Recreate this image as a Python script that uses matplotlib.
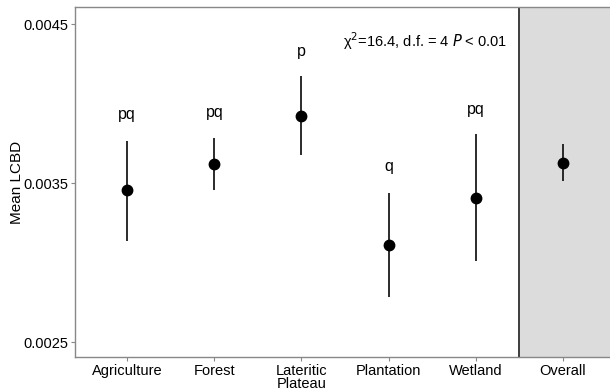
import numpy as np
import matplotlib
matplotlib.use('Agg')
import matplotlib.pyplot as plt

plt.rcParams['font.family'] = ['Liberation Sans', 'DejaVu Sans']

categories = ['Agriculture', 'Forest', 'Lateritic\nPlateau', 'Plantation', 'Wetland', 'Overall']
means = [0.003454, 0.003620, 0.003922, 0.003110, 0.003404, 0.003628]
upper = [0.003766, 0.003785, 0.004174, 0.003439, 0.003807, 0.003746]
lower = [0.003134, 0.003456, 0.003676, 0.002784, 0.003011, 0.003511]
letters = ['pq', 'pq', 'p', 'q', 'pq']
letter_y = [0.003928, 0.003941, 0.004325, 0.003601, 0.003960]

fig = plt.figure(figsize=(6.1, 3.91), dpi=100)
ax = fig.add_axes([75/610, 34/391, 540/610, 350/391])

x = np.arange(1, len(categories) + 1)

# grey block behind the overall estimate
ax.axvspan(5.5, 7, color='#dcdcdc', zorder=0)
ax.axvline(5.5, color='#3d3d3d', lw=1.4, zorder=1)

ax.vlines(x, lower, upper, color='#1a1a1a', lw=1.3, zorder=2)
ax.plot(x, means, 'o', color='black', ms=7.5, zorder=3)

for xi, lab, ly in zip(x, letters, letter_y):
    ax.text(xi, ly, lab, ha='center', va='center', fontsize=11.5)

ax.text(4.42, 0.004394, 'χ$^2$=16.4, d.f. = 4 $P$ < 0.01', ha='center', va='center', fontsize=10.5)

ax.set_xlim(0.4, 6.6)
ax.set_ylim(0.002406, 0.004607)
ax.set_xticks(x)
ax.set_xticklabels(categories, fontsize=10.5, color='black', linespacing=0.9)
ax.set_yticks([0.0025, 0.0035, 0.0045])
ax.set_yticklabels(['0.0025', '0.0035', '0.0045'], fontsize=10.5, color='black')
ax.set_ylabel('Mean LCBD', fontsize=11)
ax.yaxis.set_label_coords(-0.095, 0.5)
ax.tick_params(length=3, color='#888888', pad=2)
for s in ax.spines.values():
    s.set_color('#888888')
    s.set_linewidth(1.0)

fig.savefig('out.png', dpi=100)
